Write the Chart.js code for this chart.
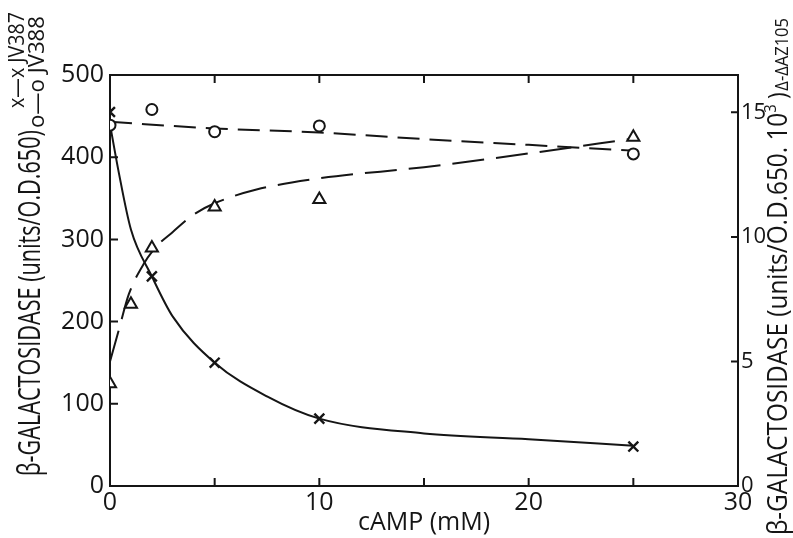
<!DOCTYPE html>
<html>
<head>
<meta charset="utf-8">
<script src="https://cdn.jsdelivr.net/npm/chart.js@4.4.1/dist/chart.umd.min.js"></script>
<style>
  body { margin: 0; background: #fff; }
  #wrap { width: 793px; height: 538px; }
</style>
</head>
<body>
<div id="wrap"><canvas id="chart" width="793" height="538"></canvas></div>
<script>
// measured points (cAMP mM)
const jv387X = [0, 2, 5, 10, 25];
const jv387Y = [455, 255, 150, 82, 48];
const jv388X = [0, 2, 5, 10, 25];
const jv388Y = [439, 458, 431, 438, 404];
const az105X = [0, 1, 2, 5, 10, 25];
const az105Y = [4.1, 7.3, 9.55, 11.2, 11.5, 14.0];

// hand drawn curves
const jv387FitX = [0, 0.4, 1, 2, 3, 5, 7.5, 10, 15, 20, 25];
const jv387FitY = [440, 384, 312, 255, 206, 150, 109, 82, 64, 57, 49];
const jv388FitX = [0, 5, 10, 15, 20, 25];
const jv388FitY = [443, 435, 430, 422, 415, 408];
const az105FitX = [0, 0.4, 0.9, 1.6, 2.2, 3, 4, 5, 7, 10, 15, 20, 25];
const az105FitY = [5.0, 6.2, 7.7, 8.9, 9.6, 10.2, 10.9, 11.35, 11.9, 12.35, 12.8, 13.35, 13.95];

const xTicks = [0, 5, 10, 15, 20, 25, 30];
const leftTicks = [0, 100, 200, 300, 400, 500];
const rightTicks = [0, 5, 10, 15];

const INK = '#151515';
const FONT = '"Open Sans", "DejaVu Sans", sans-serif';

function pts(xs, ys) {
    return xs.map((x, i) => ({ x: x, y: ys[i] }));
}

// draws a rotated text run, squeezed so it fills the given length
function drawUp(ctx, parts, cx, yStart, yEnd) {
    ctx.save();
    ctx.translate(cx, yStart);
    ctx.rotate(-Math.PI / 2);
    let total = 0;
    parts.forEach(p => {
        ctx.font = p.size + 'px ' + FONT;
        p.w = ctx.measureText(p.text).width;
        total += p.w + (p.gap || 0);
    });
    const k = (yStart - yEnd) / total;
    ctx.scale(k, 1);
    ctx.fillStyle = INK;
    ctx.textBaseline = 'middle';
    ctx.textAlign = 'left';
    let pos = 0;
    parts.forEach(p => {
        ctx.font = p.size + 'px ' + FONT;
        ctx.fillText(p.text, pos, p.dy || 0);
        pos += p.w + (p.gap || 0);
    });
    ctx.restore();
}

const framePlugin = {
    id: 'frame',
    afterDraw(chart) {
        const ctx = chart.ctx;
        const a = chart.chartArea;
        const sx = chart.scales.x, sy = chart.scales.y, sy1 = chart.scales.y1;
        ctx.save();
        ctx.strokeStyle = INK;
        ctx.lineWidth = 2;
        ctx.beginPath();
        ctx.moveTo(a.left - 1, a.top);
        ctx.lineTo(a.right + 1, a.top);
        // inward ticks
        xTicks.forEach(v => {
            const px = sx.getPixelForValue(v);
            ctx.moveTo(px, a.bottom);
            ctx.lineTo(px, a.bottom - 8);
            if (v > 0 && v < 30) {
                ctx.moveTo(px, a.top);
                ctx.lineTo(px, a.top + 8);
            }
        });
        leftTicks.forEach(v => {
            if (v === 0 || v === 500) return;
            const py = sy.getPixelForValue(v);
            ctx.moveTo(a.left, py);
            ctx.lineTo(a.left + 8, py);
        });
        rightTicks.forEach(v => {
            if (v === 0) return;
            const py = sy1.getPixelForValue(v);
            ctx.moveTo(a.right, py);
            ctx.lineTo(a.right - 7, py);
        });
        ctx.stroke();
        ctx.restore();

        // axis titles
        drawUp(ctx, [
            { text: 'β-GALACTOSIDASE (units/O.D.650)', size: 31 }
        ], 31, 476, 130);
        drawUp(ctx, [{ text: 'o—o JV388', size: 21 }], 38, 128, 16);
        drawUp(ctx, [{ text: 'x—x JV387', size: 21 }], 18, 108, 12);

        drawUp(ctx, [
            { text: 'β-GALACTOSIDASE (units/O.D.650. 10', size: 28 },
            { text: '3', size: 17, dy: -8, gap: 6 },
            { text: ')', size: 26, gap: 2 },
            { text: 'Δ-ΔAZ105', size: 19, dy: 4 }
        ], 779, 535, 18);
    }
};

const tickFont = { family: FONT, size: 25 };

new Chart(document.getElementById('chart'), {
    type: 'scatter',
    data: {
        datasets: [
            {
                label: 'JV387',
                data: pts(jv387X, jv387Y),
                yAxisID: 'y',
                pointStyle: 'crossRot',
                pointRadius: 7,
                borderWidth: 2.4,
                borderColor: INK,
                order: 0
            },
            {
                label: 'JV388',
                data: pts(jv388X, jv388Y),
                yAxisID: 'y',
                pointStyle: 'circle',
                pointRadius: 5.5,
                borderWidth: 2,
                borderColor: INK,
                backgroundColor: '#fff',
                order: 0
            },
            {
                label: 'AZ105',
                data: pts(az105X, az105Y),
                yAxisID: 'y1',
                pointStyle: 'triangle',
                pointRadius: 7,
                borderWidth: 2,
                borderColor: INK,
                backgroundColor: '#fff',
                order: 0
            },
            {
                label: 'JV387 curve',
                data: pts(jv387FitX, jv387FitY),
                yAxisID: 'y',
                showLine: true,
                pointRadius: 0,
                borderColor: INK,
                borderWidth: 2,
                cubicInterpolationMode: 'monotone',
                order: 1
            },
            {
                label: 'JV388 curve',
                data: pts(jv388FitX, jv388FitY),
                yAxisID: 'y',
                showLine: true,
                pointRadius: 0,
                borderColor: INK,
                borderWidth: 2,
                borderDash: [22, 10],
                cubicInterpolationMode: 'monotone',
                order: 1
            },
            {
                label: 'AZ105 curve',
                data: pts(az105FitX, az105FitY),
                yAxisID: 'y1',
                showLine: true,
                pointRadius: 0,
                borderColor: INK,
                borderWidth: 2,
                borderDash: [32, 12],
                cubicInterpolationMode: 'monotone',
                order: 1
            }
        ]
    },
    options: {
        responsive: false,
        animation: false,
        devicePixelRatio: 1,
        layout: { padding: { top: 75, left: 0, right: 0, bottom: 0 } },
        plugins: {
            legend: { display: false },
            tooltip: { enabled: false }
        },
        scales: {
            x: {
                type: 'linear',
                position: 'bottom',
                min: 0,
                max: 30,
                grid: { display: false, drawTicks: false },
                border: { color: INK, width: 2 },
                ticks: {
                    stepSize: 5,
                    autoSkip: false,
                    maxRotation: 0,
                    padding: 2,
                    color: INK,
                    font: tickFont,
                    callback: v => (v % 10 === 0 ? v : '')
                },
                title: {
                    display: true,
                    text: 'cAMP (mM)',
                    color: INK,
                    font: { family: FONT, size: 25 },
                    padding: { top: -9, bottom: 0 }
                },
                afterFit: s => { s.height = 52; }
            },
            y: {
                position: 'left',
                min: 0,
                max: 500,
                grid: { display: false, drawTicks: false },
                border: { color: INK, width: 2 },
                ticks: {
                    stepSize: 100,
                    padding: 6,
                    color: INK,
                    font: tickFont
                },
                afterFit: s => { s.width = 110; }
            },
            y1: {
                position: 'right',
                min: 0,
                max: 16.5,
                grid: { display: false, drawTicks: false },
                border: { color: INK, width: 2 },
                ticks: {
                    stepSize: 5,
                    includeBounds: false,
                    padding: 3,
                    color: INK,
                    font: { family: FONT, size: 22 }
                },
                afterFit: s => { s.width = 55; }
            }
        }
    },
    plugins: [framePlugin]
});
</script>
</body>
</html>
